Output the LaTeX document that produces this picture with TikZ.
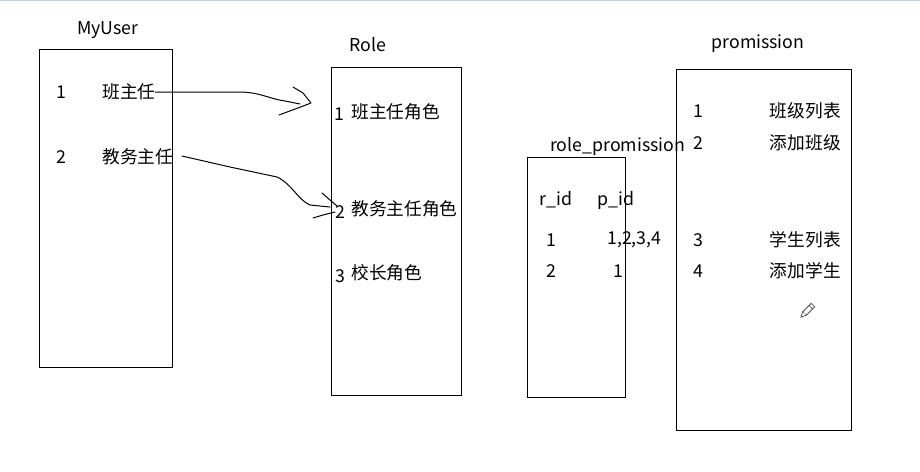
\documentclass[tikz,border=0pt]{standalone}
\usepackage{fontspec}
\setmainfont{Noto Sans CJK SC}
\begin{document}
\begin{tikzpicture}[x=0.75pt,y=-0.75pt,
  tbl/.style={draw=black,line width=0.75pt},
  txt/.style={inner sep=0pt,font=\fontsize{13.3pt}{15pt}\selectfont},
  hand/.style={line width=0.75pt,line join=round,line cap=round}]
\useasboundingbox (0,0) rectangle (920,471);
\fill[white] (0,0) rectangle (920,471);
\draw[color={rgb,255:red,196;green,208;blue,224},line width=1pt] (0,0.6) -- (920,0.6);
% boxes
\node[tbl,minimum width=133*0.75pt,minimum height=318*0.75pt,anchor=north west,inner sep=0pt] (myuser) at (38.5,48.5) {};
\node[tbl,minimum width=130*0.75pt,minimum height=328*0.75pt,anchor=north west,inner sep=0pt] (role) at (330.5,66.5) {};
\node[tbl,minimum width=98*0.75pt,minimum height=240*0.75pt,anchor=north west,inner sep=0pt] (rp) at (526.5,156.5) {};
\node[tbl,minimum width=175*0.75pt,minimum height=361*0.75pt,anchor=north west,inner sep=0pt] (perm) at (675.5,68.5) {};
% titles
\node[txt] (t1) at (108,30) {MyUser};
\node[txt] (t2) at (368,45) {Role};
\node[txt,anchor=west] (t3) at (550,146) {role\_promission};
\node[txt] (t4) at (758,44) {promission};
% MyUser rows
\node[txt] (u1n) at (61,92) {1};
\node[txt,anchor=west] (u1) at (102,92) {班主任};
\node[txt] (u2n) at (61,157) {2};
\node[txt,anchor=west] (u2) at (102,157) {教务主任};
% Role rows
\node[txt] (r1n) at (339,114) {1};
\node[txt,anchor=west] (r1) at (351,112) {班主任角色};
\node[txt] (r2n) at (340,212) {2};
\node[txt,anchor=west] (r2) at (351,209) {教务主任角色};
\node[txt] (r3n) at (340,276) {3};
\node[txt,anchor=west] (r3) at (351,273) {校长角色};
% role_promission rows
\node[txt] (h1) at (556,200) {r\_id};
\node[txt] (h2) at (616,200) {p\_id};
\node[txt] (a1) at (551,240) {1};
\node[txt,anchor=west] (b1) at (607,240) {1,2,3,4};
\node[txt] (a2) at (551,271) {2};
\node[txt] (b2) at (618,271) {1};
% promission rows
\node[txt] (p1n) at (698,111) {1};
\node[txt,anchor=east] (p1) at (841,111) {班级列表};
\node[txt] (p2n) at (698,143) {2};
\node[txt,anchor=east] (p2) at (841,143) {添加班级};
\node[txt] (p3n) at (698,240) {3};
\node[txt,anchor=east] (p3) at (841,240) {学生列表};
\node[txt] (p4n) at (698,271) {4};
\node[txt,anchor=east] (p4) at (841,271) {添加学生};
% hand drawn arrow 1
\coordinate (s1) at (155,92);
\coordinate (e1) at (300,104);
\draw[hand] (s1) -- (242,92) .. controls (262,93) and (270,99) .. (285,101) -- (e1);
\draw[hand] (293,87) -- (303,93) -- (311,103) -- (298,108) -- (279,115);
% hand drawn arrow 2
\coordinate (s2) at (182,156);
\coordinate (e2) at (330,207);
\draw[hand] (s2) -- (230,167) -- (277,177) .. controls (292,184) and (298,200) .. (310,205) -- (e2);
\draw[hand] (322,193) -- (330,200) -- (337,206);
\draw[hand] (313,218) -- (323,215) -- (335,212);
% pencil cursor
\begin{scope}[shift={(808,310)},rotate=-45]
\draw[line width=0.6pt,color={rgb,255:red,80;green,80;blue,90},fill=white] (-2.5,-7) rectangle (2.5,5);
\draw[line width=0.6pt,color={rgb,255:red,80;green,80;blue,90},fill=white] (-2.5,5) -- (0,10) -- (2.5,5);
\draw[line width=0.6pt,color={rgb,255:red,80;green,80;blue,90}] (-2.5,-4) -- (2.5,-4);
\end{scope}
\end{tikzpicture}
\end{document}
